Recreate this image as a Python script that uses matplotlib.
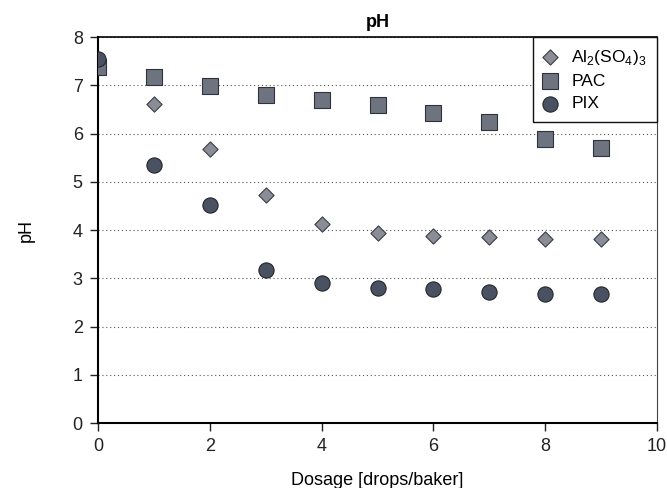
import matplotlib
matplotlib.use("Agg")
import matplotlib.pyplot as plt

# dosage and measured pH
dosage = [0, 1, 2, 3, 4, 5, 6, 7, 8, 9]
ph_alum = [7.5, 6.62, 5.68, 4.73, 4.12, 3.95, 3.87, 3.85, 3.81, 3.81]
ph_pac = [7.37, 7.17, 6.98, 6.8, 6.69, 6.59, 6.43, 6.25, 5.88, 5.7]
ph_pix = [7.55, 5.35, 4.51, 3.18, 2.9, 2.81, 2.77, 2.71, 2.68, 2.67]

plt.rcParams["font.family"] = ["Liberation Sans", "DejaVu Sans"]
plt.rcParams["mathtext.fontset"] = "custom"
plt.rcParams["mathtext.rm"] = "Liberation Sans"

fig = plt.figure(figsize=(6.67, 4.88), dpi=100)
ax = fig.add_axes([0.147, 0.133, 0.838, 0.791])

ax.scatter(dosage, ph_alum, marker="D", s=60, color="#8a8c96", edgecolor="#3a3d45",
           linewidth=0.8, label=r"Al$_\mathregular{2}$(SO$_\mathregular{4}$)$_\mathregular{3}$",
           zorder=3)
ax.scatter(dosage, ph_pac, marker="s", s=125, color="#6e7380", edgecolor="#2f333b",
           linewidth=0.8, label="PAC", zorder=3)
ax.scatter(dosage, ph_pix, marker="o", s=120, color="#4a5262", edgecolor="#22262d",
           linewidth=0.8, label="PIX", zorder=4)

ax.set_xlim(0, 10)
ax.set_ylim(0, 8)
ax.set_xticks([0, 2, 4, 6, 8, 10])
ax.set_yticks(range(0, 9))
ax.yaxis.grid(True, linestyle=(0, (1, 2.5)), color="#555555", linewidth=0.8)
ax.set_axisbelow(True)

ax.spines["left"].set_linewidth(1.5)
ax.spines["bottom"].set_linewidth(1.5)
ax.spines["top"].set_linewidth(1.2)
ax.spines["right"].set_linewidth(0.8)
ax.spines["right"].set_color("#444444")
ax.tick_params(direction="out", length=6, width=1, labelsize=13, colors="#222222", pad=5)

ax.set_title("pH", fontsize=13, fontweight="bold", pad=7)
ax.set_xlabel("Dosage [drops/baker]", fontsize=13, labelpad=12)
ax.set_ylabel("pH", fontsize=13, labelpad=27)

leg = ax.legend(loc="upper right", fontsize=12.5, frameon=True, fancybox=False,
                borderaxespad=0, handletextpad=0.8, handlelength=0.8,
                labelspacing=0.42, borderpad=0.6, scatterpoints=1, framealpha=1)
leg.get_frame().set_edgecolor("#111111")
leg.get_frame().set_linewidth(1.0)

fig.savefig("out.png", dpi=100)
